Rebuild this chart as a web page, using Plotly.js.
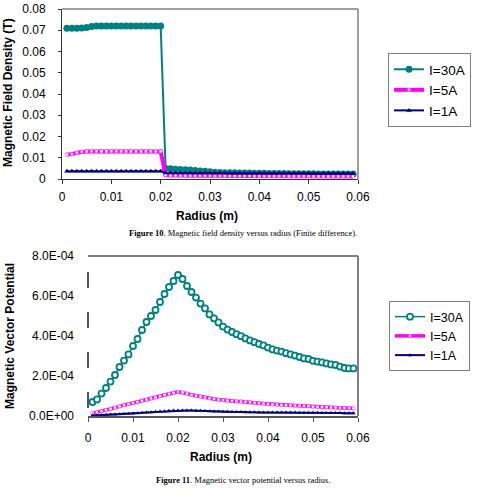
<!DOCTYPE html>
<html>
<head>
<meta charset="utf-8">
<script src="https://cdn.plot.ly/plotly-3.0.1.min.js"></script>
<style>html,body{margin:0;padding:0;background:#fff;}#chart{width:482px;height:501px;}</style>
</head>
<body>
<div id="chart"></div>
<script>
// Radius values (m)
const radius = [0.001,0.002,0.003,0.004,0.005,0.006,0.007,0.008,0.009,0.010,
  0.011,0.012,0.013,0.014,0.015,0.016,0.017,0.018,0.019,0.020,
  0.021,0.022,0.023,0.024,0.025,0.026,0.027,0.028,0.029,0.030,
  0.031,0.032,0.033,0.034,0.035,0.036,0.037,0.038,0.039,0.040,
  0.041,0.042,0.043,0.044,0.045,0.046,0.047,0.048,0.049,0.050,
  0.051,0.052,0.053,0.054,0.055,0.056,0.057,0.058,0.059];

// Figure 10: Magnetic field density (T)
const b30 = [0.0710,0.0710,0.0710,0.0711,0.0713,0.0718,0.0720,0.0720,0.0720,0.0720,
  0.0720,0.0720,0.0720,0.0720,0.0720,0.0720,0.0720,0.0720,0.0720,0.0720,
  0.0050,0.0048,0.0046,0.0045,0.0044,0.0042,0.0040,0.0038,0.0036,0.0034,
  0.0032,0.0031,0.0030,0.0029,0.0029,0.0028,0.0028,0.0028,0.0027,0.0027,
  0.0027,0.0026,0.0026,0.0026,0.0026,0.0025,0.0025,0.0025,0.0025,0.0025,
  0.0025,0.0024,0.0024,0.0024,0.0024,0.0024,0.0023,0.0023,0.0023];
const b5 = [0.0115,0.0117,0.0124,0.0128,0.0130,0.0130,0.0130,0.0130,0.0130,0.0130,
  0.0130,0.0130,0.0130,0.0130,0.0130,0.0130,0.0130,0.0130,0.0130,0.0130,
  0.0018,0.0017,0.0017,0.0016,0.0016,0.0016,0.0015,0.0015,0.0015,0.0015,
  0.0014,0.0014,0.0014,0.0014,0.0014,0.0014,0.0014,0.0014,0.0013,0.0013,
  0.0013,0.0013,0.0013,0.0013,0.0013,0.0013,0.0013,0.0013,0.0013,0.0013,
  0.0012,0.0012,0.0012,0.0012,0.0012,0.0012,0.0012,0.0012,0.0012];
const b1 = [0.0037,0.0037,0.0037,0.0037,0.0037,0.0037,0.0037,0.0037,0.0037,0.0037,
  0.0037,0.0037,0.0037,0.0037,0.0037,0.0037,0.0037,0.0037,0.0037,0.0037,
  0.0028,0.0028,0.0028,0.0028,0.0028,0.0028,0.0028,0.0028,0.0028,0.0028,
  0.0028,0.0028,0.0028,0.0027,0.0027,0.0027,0.0027,0.0027,0.0027,0.0027,
  0.0027,0.0027,0.0027,0.0027,0.0027,0.0027,0.0027,0.0027,0.0027,0.0026,
  0.0026,0.0026,0.0026,0.0026,0.0026,0.0026,0.0026,0.0026,0.0026];

// Figure 11: Magnetic vector potential
const a30 = [0.70e-4,0.83e-4,1.12e-4,1.40e-4,1.72e-4,2.05e-4,2.45e-4,2.77e-4,3.08e-4,3.50e-4,
  3.85e-4,4.30e-4,4.70e-4,5.00e-4,5.30e-4,5.70e-4,6.10e-4,6.45e-4,6.75e-4,7.05e-4,
  6.85e-4,6.50e-4,6.20e-4,5.92e-4,5.62e-4,5.38e-4,5.08e-4,4.88e-4,4.68e-4,4.47e-4,
  4.32e-4,4.20e-4,4.09e-4,3.99e-4,3.88e-4,3.78e-4,3.69e-4,3.60e-4,3.53e-4,3.42e-4,
  3.33e-4,3.27e-4,3.22e-4,3.14e-4,3.08e-4,3.02e-4,2.95e-4,2.88e-4,2.85e-4,2.76e-4,
  2.72e-4,2.68e-4,2.63e-4,2.58e-4,2.55e-4,2.47e-4,2.40e-4,2.38e-4,2.38e-4];
const a5 = [0.13e-4,0.18e-4,0.24e-4,0.30e-4,0.36e-4,0.42e-4,0.48e-4,0.54e-4,0.60e-4,0.65e-4,
  0.70e-4,0.76e-4,0.82e-4,0.88e-4,0.93e-4,0.99e-4,1.05e-4,1.11e-4,1.16e-4,1.21e-4,
  1.18e-4,1.12e-4,1.06e-4,1.01e-4,0.97e-4,0.93e-4,0.89e-4,0.85e-4,0.82e-4,0.79e-4,
  0.77e-4,0.75e-4,0.73e-4,0.72e-4,0.71e-4,0.69e-4,0.66e-4,0.64e-4,0.62e-4,0.60e-4,
  0.58e-4,0.56e-4,0.55e-4,0.54e-4,0.53e-4,0.52e-4,0.51e-4,0.50e-4,0.49e-4,0.47e-4,
  0.46e-4,0.45e-4,0.44e-4,0.43e-4,0.42e-4,0.41e-4,0.40e-4,0.39e-4,0.38e-4];
const a1 = [0.02e-4,0.03e-4,0.04e-4,0.05e-4,0.07e-4,0.08e-4,0.09e-4,0.10e-4,0.11e-4,0.12e-4,
  0.14e-4,0.16e-4,0.18e-4,0.19e-4,0.21e-4,0.23e-4,0.24e-4,0.26e-4,0.27e-4,0.28e-4,
  0.28e-4,0.27e-4,0.27e-4,0.26e-4,0.26e-4,0.25e-4,0.24e-4,0.22e-4,0.22e-4,0.21e-4,
  0.21e-4,0.20e-4,0.20e-4,0.20e-4,0.19e-4,0.19e-4,0.19e-4,0.18e-4,0.18e-4,0.18e-4,
  0.18e-4,0.17e-4,0.17e-4,0.17e-4,0.17e-4,0.17e-4,0.16e-4,0.16e-4,0.16e-4,0.16e-4,
  0.16e-4,0.15e-4,0.15e-4,0.15e-4,0.15e-4,0.15e-4,0.14e-4,0.14e-4,0.14e-4];

const seriesNames = ['I=30A','I=5A','I=1A'];
const xTicks = [0,0.01,0.02,0.03,0.04,0.05,0.06];
const xTickText = ['0','0.01','0.02','0.03','0.04','0.05','0.06'];
const yTicks1 = [0,0.01,0.02,0.03,0.04,0.05,0.06,0.07,0.08];
const yTickText1 = ['0','0.01','0.02','0.03','0.04','0.05','0.06','0.07','0.08'];
const yTicks2 = [0,2e-4,4e-4,6e-4,8e-4];
const yTickText2 = ['0.0E+00','2.0E-04','4.0E-04','6.0E-04','8.0E-04'];

const TEAL = '#008080', MAG = '#ff00ff', NAVY = '#000080';
const FONT = 'Liberation Sans, Arial, sans-serif';
const SERIF = 'Liberation Serif, Times New Roman, serif';
const W = 482, H = 501;
const px = v => v / W, py = v => 1 - v / H;

const traces = [
  {x: radius, y: b30, name: seriesNames[0], type: 'scatter', mode: 'lines+markers', xaxis: 'x', yaxis: 'y',
   line: {color: TEAL, width: 2}, marker: {symbol: 'circle', size: 7, color: TEAL}, legend: 'legend'},
  {x: radius, y: b5, name: seriesNames[1], type: 'scatter', mode: 'lines+markers', xaxis: 'x', yaxis: 'y',
   line: {color: MAG, width: 4}, marker: {symbol: 'square', size: 3, color: '#ffffff', line: {color: MAG, width: 0.5}}, legend: 'legend'},
  {x: radius, y: b1, name: seriesNames[2], type: 'scatter', mode: 'lines+markers', xaxis: 'x', yaxis: 'y',
   line: {color: NAVY, width: 2}, marker: {symbol: 'triangle-up', size: 5, color: NAVY}, legend: 'legend'},
  {x: radius, y: a30, name: seriesNames[0], type: 'scatter', mode: 'lines+markers', xaxis: 'x2', yaxis: 'y2',
   line: {color: TEAL, width: 1.5}, marker: {symbol: 'circle', size: 6, color: '#ffffff', line: {color: TEAL, width: 1.8}}, legend: 'legend2'},
  {x: radius, y: a5, name: seriesNames[1], type: 'scatter', mode: 'lines+markers', xaxis: 'x2', yaxis: 'y2',
   line: {color: MAG, width: 3.5}, marker: {symbol: 'square', size: 3, color: '#ffffff', line: {color: MAG, width: 0.5}}, legend: 'legend2'},
  {x: radius, y: a1, name: seriesNames[2], type: 'scatter', mode: 'lines+markers', xaxis: 'x2', yaxis: 'y2',
   line: {color: NAVY, width: 2}, marker: {symbol: 'triangle-up', size: 4, color: NAVY}, legend: 'legend2'}
];

const axisCommon = {showgrid: false, zeroline: false, tickfont: {family: FONT, size: 12, color: '#000'}, fixedrange: true};

const layout = {
  width: W, height: H,
  margin: {l: 0, r: 0, t: 0, b: 0},
  paper_bgcolor: '#ffffff', plot_bgcolor: '#ffffff',
  font: {family: FONT, color: '#000'},
  showlegend: true,
  xaxis: Object.assign({}, axisCommon, {domain: [px(62), px(358)], anchor: 'y', range: [0, 0.06],
    tickvals: xTicks, ticktext: xTickText, ticks: 'outside', ticklen: 4, tickcolor: '#333',
    showline: true, linecolor: '#333', linewidth: 1, ticklabelstandoff: 3}),
  yaxis: Object.assign({}, axisCommon, {domain: [py(179), py(9)], anchor: 'x', range: [0, 0.08],
    tickvals: yTicks1, ticktext: yTickText1, ticks: 'outside', ticklen: 3, tickcolor: '#333',
    showline: true, linecolor: '#333', linewidth: 1, ticklabelstandoff: 10}),
  xaxis2: Object.assign({}, axisCommon, {domain: [px(88), px(358)], anchor: 'y2', range: [0, 0.06],
    tickvals: xTicks, ticktext: xTickText, ticks: 'outside', ticklen: 4, tickcolor: '#555',
    showline: true, linecolor: '#555', linewidth: 1.5, ticklabelstandoff: 6}),
  yaxis2: Object.assign({}, axisCommon, {domain: [py(416), py(256)], anchor: 'x2', range: [0, 8e-4],
    tickvals: yTicks2, ticktext: yTickText2, ticks: '', showline: false, ticklabelstandoff: 13}),
  legend: {x: px(388), y: py(53), xanchor: 'left', yanchor: 'top', bgcolor: '#ffffff',
    bordercolor: '#808080', borderwidth: 1, font: {family: FONT, size: 13.5, color: '#000'},
    entrywidth: 86, entrywidthmode: 'pixels'},
  legend2: {x: px(389), y: py(301), xanchor: 'left', yanchor: 'top', bgcolor: '#ffffff',
    bordercolor: '#808080', borderwidth: 1, font: {family: FONT, size: 12.5, color: '#000'},
    entrywidth: 86, entrywidthmode: 'pixels'},
  shapes: [
    {type: 'line', xref: 'x domain', yref: 'y domain', x0: 0, x1: 1, y0: 1, y1: 1, line: {color: '#808080', width: 1.5}},
    {type: 'line', xref: 'x domain', yref: 'y domain', x0: 1, x1: 1, y0: 0, y1: 1, line: {color: '#808080', width: 1.5}},
    {type: 'line', xref: 'x2 domain', yref: 'y2 domain', x0: 0, x1: 1, y0: 1, y1: 1, line: {color: '#808080', width: 2}},
    {type: 'line', xref: 'x2 domain', yref: 'y2 domain', x0: 1, x1: 1, y0: 0, y1: 1, line: {color: '#808080', width: 2}},
    {type: 'line', xref: 'x2 domain', yref: 'y2 domain', x0: 0, x1: 0, y0: 0.9, y1: 0, line: {color: '#555', width: 2, dash: '16px,24px'}}
  ],
  annotations: [
    {text: '<b>Magnetic Field Density (T)</b>', x: px(8), y: py(93), xref: 'paper', yref: 'paper', textangle: -90,
     showarrow: false, xanchor: 'center', yanchor: 'middle', font: {family: FONT, size: 12, color: '#000'}},
    {text: '<b>Radius (m)</b>', x: px(207), y: py(216), xref: 'paper', yref: 'paper',
     showarrow: false, xanchor: 'center', yanchor: 'middle', font: {family: FONT, size: 12, color: '#000'}},
    {text: '<b>Figure 10</b>. Magnetic field density versus radius (Finite difference).', x: px(243), y: py(233), xref: 'paper', yref: 'paper',
     showarrow: false, xanchor: 'center', yanchor: 'middle', font: {family: SERIF, size: 8.5, color: '#000'}},
    {text: '<b>Magnetic Vector Potential</b>', x: px(10), y: py(336), xref: 'paper', yref: 'paper', textangle: -90,
     showarrow: false, xanchor: 'center', yanchor: 'middle', font: {family: FONT, size: 12, color: '#000'}},
    {text: '<b>Radius (m)</b>', x: px(221), y: py(457), xref: 'paper', yref: 'paper',
     showarrow: false, xanchor: 'center', yanchor: 'middle', font: {family: FONT, size: 12, color: '#000'}},
    {text: '<b>Figure 11</b>. Magnetic vector potential versus radius.', x: px(243), y: py(480), xref: 'paper', yref: 'paper',
     showarrow: false, xanchor: 'center', yanchor: 'middle', font: {family: SERIF, size: 8.5, color: '#000'}}
  ]
};

Plotly.newPlot('chart', traces, layout, {displayModeBar: false, staticPlot: true});
</script>
</body>
</html>
